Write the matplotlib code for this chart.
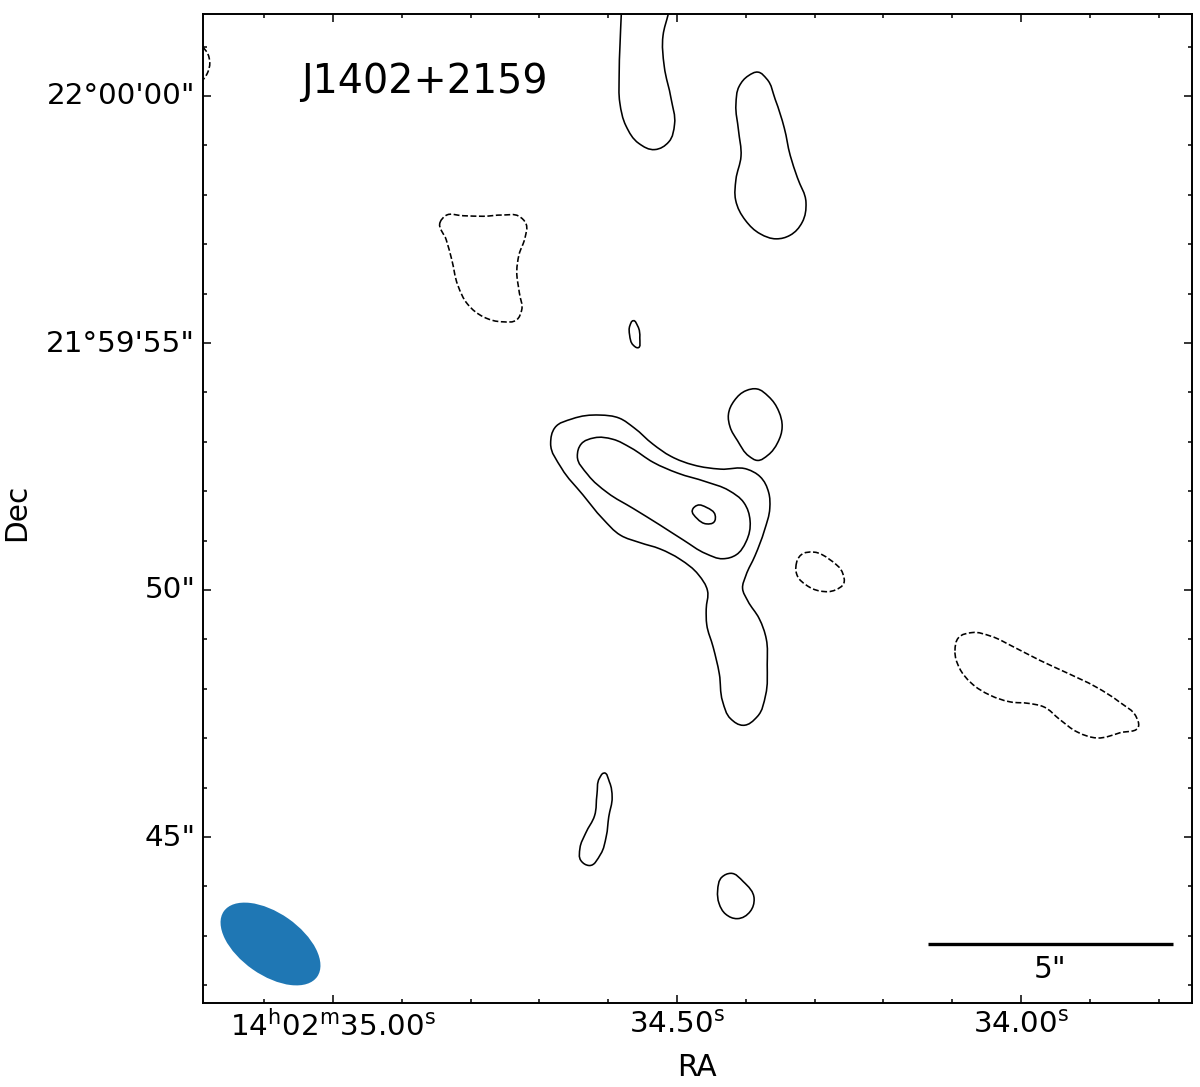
import numpy as np
import matplotlib
matplotlib.use("Agg")
import matplotlib.pyplot as plt
from matplotlib.path import Path
from matplotlib.patches import PathPatch, Ellipse
from matplotlib.transforms import ScaledTranslation

# Contours in map-grid coordinates (image pixels of the radio map)
outer = [(345.3,561.3),(350.3,576.3),(367,584.7),(398.7,589),(417,585.7),(430.3,576.3),(450.3,558),(467,546.3),
         (490.3,537.3),(517,533),(547,535),(557,528),(567,509.7),(567.7,496.3),(562,473),(552,446.3),(542,426.3),
         (538.3,414.7),(543.7,403),(557,384.7),(564.3,364.7),(564.3,339.7),(563.7,306.3),(555.3,284.7),(539.7,275.3),
         (527,283),(518.7,299.7),(517,329.7),(510.3,356.3),(502.7,379.7),(502.7,393),(506.3,413),(497,428),(477,444.7),
         (457,454.7),(437,460.3),(417,466.3),(400.3,483),(380.3,508),(357,534.7)]
middle = [(372,548),(377,559.7),(390.3,566.3),(410.3,564.7),(427,556.3),(450.3,539.7),(473.7,529.7),(503.7,521.3),
          (527,513),(542,501.3),(548.7,483),(543.7,459.7),(533.7,447),(520.3,443),(503.7,448),(480.3,463),(457,478),
          (430.3,494.7),(403.7,509.7),(383.7,528)]
inner = [(487.7,493.7),(493.7,498.7),(503.7,496.3),(513.7,488),(512,480.3),(503.7,478),(493.7,483.7)]
blob_ne = [(524.3,588),(530.3,603),(543.7,613.7),(553.7,615.3),(565.3,608),(577,591.3),(580.3,576.3),(575.3,559.7),
           (565.3,547),(553.7,541.3),(547,544.7),(533.7,563),(526.3,576.3)]
top_open = [(418.3,989),(417,959.7),(416,926.3),(416,899.7),(422,876.3),(435.3,858),(452,851.3),(467,859.7),(473,878),
            (468.7,903),(460.3,936.3),(459,969.7),(465.3,989)]
top_right = [(532,899.7),(535.3,918),(545.3,928),(555.3,932.3),(563.7,926.3),(572,904.7),(582,874.7),(587,846.3),
             (593.7,826.3),(605.3,799.7),(600.3,779.7),(587,766.3),(573.7,763),(557,768),(542,781.3),(531,803),(532,823),
             (539.7,846.3),(535.3,873)]
small_oval = [(430,684),(435,678),(437.5,665),(435,653),(430,657),(426,668),(426.5,678)]
long_blob = [(400.3,232.3),(407,221.3),(410.3,206.3),(405.3,186.3),(403.7,166.3),(398.7,148),(385.3,134.7),(377,141.3),
             (376,154.7),(382,169.7),(393,186.3),(393.7,209.7),(396.3,226.3)]
low_blob = [(513.7,111.3),(518.7,128),(527,131.3),(540.3,123),(553.7,103),(548.7,91.3),(533.7,82.3),(522,88),(515.3,99.7)]

neg_center = [(592,436.3),(597,449.7),(610.3,452.3),(627,444.7),(642,428),(642,419.7),(633.7,412.3),(617,410.7),(602,418),
              (593.7,426.3)]
neg_right = [(751,353),(753.7,366.3),(768.7,371.7),(787,368),(810.3,356.3),(837,342.3),(863.7,330.3),(893.7,316.3),
             (917,301.3),(935.3,284.7),(939.3,277),(917,270.3),(893.7,263),(873.7,270.3),(857,283),(840.3,298),(827,299.7),
             (807,300.3),(787,307),(767,319.7),(755.3,334.7)]
neg_trap = [(235.3,783),(240.3,788),(260.3,787.3),(280.3,786.3),(300.3,788.3),(317,788),(324.3,779.7),(323,766.3),
            (315.3,748),(313,733),(316.3,709.7),(319.7,691.3),(315.3,682.3),(300.3,680.3),(280.3,684.7),(263.7,698),
            (254.3,716.3),(248.7,744.7),(243.7,763)]
neg_edge = [(0,956),(5,950),(7.5,940),(5,930),(0,923)]

ra_major = [35.00, 34.50, 34.00]
ra_labels = [r"14$^{\mathrm{h}}$02$^{\mathrm{m}}$35.00$^{\mathrm{s}}$",
             r"34.50$^{\mathrm{s}}$", r"34.00$^{\mathrm{s}}$"]
dec_major = [10, 5, 0, -5]   # arcsec relative to 21:59:50
dec_labels = ["22°00'00\"", "21°59'55\"", "50\"", "45\""]

# WCS of the map grid
def ra2px(r):
    return 130 + (35.0 - np.asarray(r)) * 688.0
def dec2px(d):
    return 413 + np.asarray(d) * 49.4

def smooth_path(pts, closed=True):
    """Draw a contour as G1 cubic segments with chord-scaled handles."""
    p = np.asarray(pts, float)
    n = len(p)
    # very light relaxation to remove reading jitter from the vertices
    q = p.copy()
    for i in range(n):
        if closed or 0 < i < n-1:
            q[i] = 0.14*p[(i-1) % n] + 0.72*p[i] + 0.14*p[(i+1) % n]
    p = q
    tang = np.zeros_like(p)
    for i in range(n):
        if closed:
            a, b = p[(i-1) % n], p[(i+1) % n]
        else:
            a, b = p[max(i-1, 0)], p[min(i+1, n-1)]
        d1 = np.hypot(*(p[i]-a)) or 1.0
        d2 = np.hypot(*(b-p[i])) or 1.0
        t = (p[i]-a)/d1*d2 + (b-p[i])/d2*d1
        tang[i] = t/(np.hypot(*t) or 1.0)
    verts = [p[0]]
    codes = [Path.MOVETO]
    segs = n if closed else n - 1
    for i in range(segs):
        j = (i+1) % n
        d = np.hypot(*(p[j]-p[i]))
        verts += [p[i] + tang[i]*d*0.36, p[j] - tang[j]*d*0.36, p[j]]
        codes += [Path.CURVE4]*3
    return Path(verts, codes)

plt.rcParams['mathtext.default'] = 'regular'
fig = plt.figure(figsize=(12, 10.87), dpi=100)
ax = fig.add_axes([203/1200, 84/1087, 989/1200, 989/1087])
ax.set_xlim(0, 989)
ax.set_ylim(0, 989)
for s in ax.spines.values():
    s.set_linewidth(1.4)

LW = 1.15
for c in [outer, middle, inner, blob_ne, top_right, small_oval, long_blob, low_blob]:
    ax.add_patch(PathPatch(smooth_path(c), fill=False, ec='k', lw=LW))
ax.add_patch(PathPatch(smooth_path(top_open, closed=False), fill=False, ec='k', lw=LW))
for c in [neg_center, neg_right, neg_trap]:
    ax.add_patch(PathPatch(smooth_path(c), fill=False, ec='k', lw=LW, ls=(0, (3.7, 1.6))))
ax.add_patch(PathPatch(smooth_path(neg_edge, closed=False), fill=False, ec='k', lw=LW, ls=(0, (3.7, 1.6))))

ax.add_patch(Ellipse((67.5, 59), 114, 62, angle=-35, fc='#1f77b4', ec='none'))

ax.plot([725, 970], [59, 59], color='k', lw=2.4, solid_capstyle='butt')
ax.text(847, 34, '5"', ha='center', va='center', fontsize=21.3)
ax.text(98, 910, 'J1402+2159', ha='left', va='baseline', fontsize=28.5)

ax.set_xticks(ra2px(ra_major))
ax.set_xticklabels(ra_labels)
ax.set_yticks(dec2px(dec_major))
ax.set_yticklabels(dec_labels)
ax.set_xticks(ra2px(np.arange(33.8, 35.3, 0.1)), minor=True)
ax.set_yticks(dec2px(np.arange(-8, 12, 1.0)), minor=True)
ax.set_xlim(0, 989)
ax.set_ylim(0, 989)
ax.tick_params(which='both', direction='in', top=True, right=True, width=1.1)
ax.tick_params(which='major', length=5.5, labelsize=21.2)
ax.tick_params(axis='x', which='major', pad=5)
ax.tick_params(axis='y', which='major', pad=5.5)
ax.tick_params(which='minor', length=3)
up = ScaledTranslation(0, 2.5/100, fig.dpi_scale_trans)
for lab in ax.get_yticklabels():
    lab.set_transform(lab.get_transform() + up)

fig.text(697/1200, 1-1068/1087, 'RA', ha='center', va='center', fontsize=21.3)
fig.text(17/1200, 1-512/1087, 'Dec', ha='center', va='center', rotation=90, fontsize=21.3)

fig.savefig('out.png', dpi=100)
